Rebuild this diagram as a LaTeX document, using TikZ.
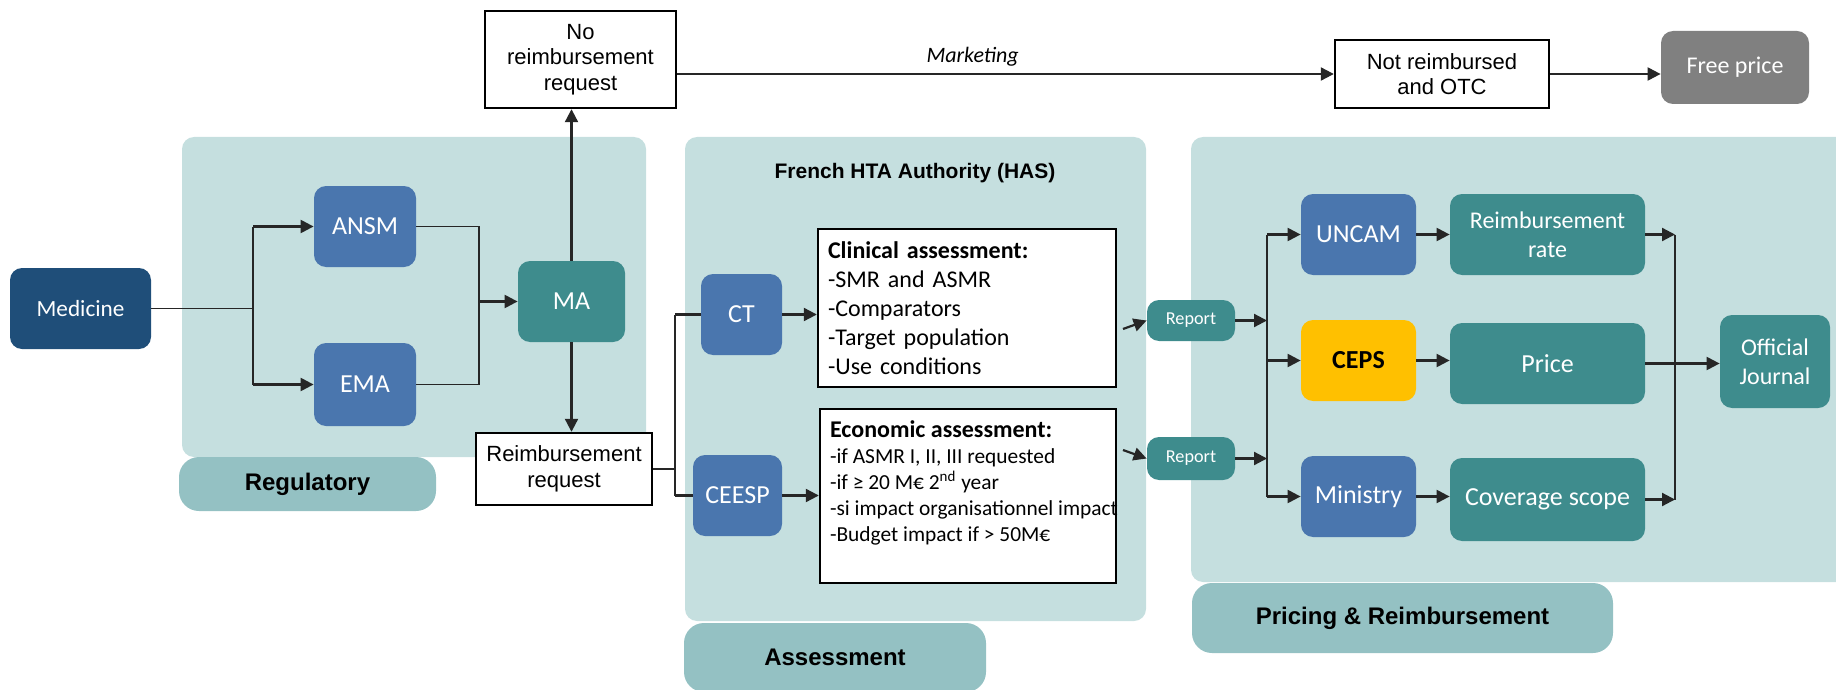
\documentclass[tikz,border=0pt]{standalone}
\usepackage{fontspec}
\setmainfont{Carlito}
\newfontfamily\arialfont{Liberation Sans}
\usepackage{xcolor}
\usepackage{tikz}
\usetikzlibrary{arrows.meta}

\definecolor{panelbg}{HTML}{C5DFDF}
\definecolor{tabbg}{HTML}{94C1C3}
\definecolor{medblue}{HTML}{1F4E79}
\definecolor{agblue}{HTML}{4A76AE}
\definecolor{tealc}{HTML}{3E8C8D}
\definecolor{cepsyellow}{HTML}{FFC000}
\definecolor{freegray}{HTML}{808080}
\definecolor{linegray}{HTML}{262626}

\tikzset{
  panel/.style={fill=panelbg, rounded corners=6pt},
  tab/.style={fill=tabbg, rounded corners=10pt, font=\arialfont\bfseries\fontsize{12}{14}\selectfont},
  card/.style={rounded corners=6pt, text=white, align=center, inner sep=1pt, font=\fontsize{13}{14.5}\selectfont},
  plain/.style={draw=black, line width=1.2pt, fill=white, align=center, inner sep=1pt, font=\arialfont\fontsize{11}{12.8}\selectfont},
  listbox/.style={draw=black, line width=1.2pt, fill=white, align=left, inner sep=5pt},
  arr/.style={draw=linegray, line width=1.1pt, -{Triangle[length=6.5pt,width=6.5pt]}},
  wire/.style={draw=linegray, line width=0.6pt},
  bar/.style={draw=linegray, line width=1.1pt}
}

\begin{document}
\begin{tikzpicture}[x=0.5pt, y=-0.5pt]
    \useasboundingbox (0,0) rectangle (1836,690);

    % Draw the three background panels
    \fill[panel] (182,137) rectangle (646,457);
    \fill[panel] (685,137) rectangle (1146,621);
    \fill[panel] (1191,137) rectangle (1850,582);

    % Panel tabs
    \node[tab, minimum width=128.5pt, minimum height=27pt] (regtab) at (307.5,484) {Regulatory};
    \node[tab, minimum width=151pt, minimum height=34.5pt] (asstab) at (835,657.5) {Assessment};
    \node[tab, minimum width=210.5pt, minimum height=35pt] (prictab) at (1402.5,618) {Pricing \& Reimbursement};

    % Regulatory part
    \node[card, fill=medblue, minimum width=70.5pt, minimum height=40.5pt, font=\fontsize{11.6}{14}\selectfont] (medicine) at (80.5,308.5) {Medicine};
    \node[card, fill=agblue, minimum width=51pt, minimum height=40.5pt] (ansm) at (365,226.5) {ANSM};
    \node[card, fill=agblue, minimum width=51pt, minimum height=41.5pt] (ema) at (365,384.5) {EMA};
    \node[card, fill=tealc, minimum width=53.5pt, minimum height=40.5pt] (ma) at (571.5,301.5) {MA};

    % White decision boxes
    \node[plain, minimum width=95.5pt, minimum height=48.5pt] (noreq) at (580.5,59.5) {No\\reimbursement\\request};
    \node[plain, minimum width=88pt, minimum height=36pt] (req) at (564,469) {Reimbursement\\request};
    \node[plain, minimum width=107pt, minimum height=34pt] (notreimb) at (1442,74) {Not reimbursed\\and OTC};
    \node[card, fill=freegray, minimum width=74pt, minimum height=36.5pt, font=\fontsize{12}{14}\selectfont] (freeprice) at (1735,67.5) {Free price};

    % Assessment part
    \node[font=\arialfont\bfseries\fontsize{10.5}{12}\selectfont] (hastitle) at (915,173) {French HTA Authority (HAS)};
    \node[card, fill=agblue, minimum width=40.5pt, minimum height=40.5pt] (ct) at (741.5,314.5) {CT};
    \node[card, fill=agblue, minimum width=44.5pt, minimum height=40.5pt] (ceesp) at (737.5,495.5) {CEESP};
    \node[listbox, text width=139pt, minimum height=79pt, font=\fontsize{12}{14.5}\selectfont] (clinical) at (967,308)
        {\textbf{Clinical assessment:}\\-SMR and ASMR\\-Comparators\\-Target population\\-Use conditions};
    \node[listbox, font=\fontsize{10.7}{13}\selectfont] (economic) at (968,496)
        {\parbox[c][77pt][t]{138pt}{\raggedright\vspace*{1pt}
         {\fontsize{12}{13}\selectfont\textbf{Economic assessment:}}\\
         -if ASMR I, II, III requested\\
         -if ≥ 20 M€ 2\textsuperscript{nd} year\\
         \mbox{-si impact organisationnel impact}\\
         -Budget impact if > 50M€}};
    \node[card, fill=tealc, minimum width=44pt, minimum height=20.5pt, font=\fontsize{9.1}{11}\selectfont] (rep1) at (1191,320.5) {Report};
    \node[card, fill=tealc, minimum width=44pt, minimum height=21.5pt, font=\fontsize{9.1}{11}\selectfont] (rep2) at (1191,458.5) {Report};

    % Pricing and reimbursement part
    \node[card, fill=agblue, minimum width=57.5pt, minimum height=40.5pt] (uncam) at (1358.5,234.5) {UNCAM};
    \node[card, fill=cepsyellow, text=black, minimum width=57.5pt, minimum height=40.5pt, font=\bfseries\fontsize{13}{14.5}\selectfont] (ceps) at (1358.5,360.5) {CEPS};
    \node[card, fill=agblue, minimum width=57.5pt, minimum height=40.5pt] (ministry) at (1358.5,496.5) {Ministry};
    \node[card, fill=tealc, minimum width=97.5pt, minimum height=40.5pt, font=\fontsize{12}{14.5}\selectfont] (rrate) at (1547.5,234.5) {Reimbursement\\rate};
    \node[card, fill=tealc, minimum width=97.5pt, minimum height=40.5pt] (price) at (1547.5,363.5) {Price};
    \node[card, fill=tealc, minimum width=97.5pt, minimum height=41.5pt] (coverage) at (1547.5,499.5) {Coverage scope};
    \node[card, fill=tealc, minimum width=55pt, minimum height=46.5pt, font=\fontsize{12}{14.3}\selectfont] (journal) at (1775,361.5) {Official\\Journal};

    % Connectors: regulatory
    \coordinate (fork1) at (253,306);
    \coordinate (join1) at (479,301);
    \draw[wire] (medicine.east) -- (fork1 |- medicine.east);
    \draw[wire] (fork1 |- ansm.west) -- (fork1 |- ema.west);
    \foreach \n in {ansm, ema}
        \draw[arr] (fork1 |- \n.west) -- (\n.west);
    \draw[wire] (ansm.east) -| (join1 |- ema.east) -- (ema.east);
    \draw[arr] (join1 |- ma.west) -- (ma.west);
    \draw[arr] (ma.north) -- (ma.north |- noreq.south);
    \draw[arr] (ma.south) -- (ma.south |- req.north);

    % Connectors: marketing without reimbursement
    \draw[arr] (noreq.east |- notreimb.west) -- node[above, pos=0.45, font=\itshape\fontsize{11}{13}\selectfont] (mktlabel) {Marketing} (notreimb.west);
    \draw[arr] (notreimb.east) -- (notreimb.east -| freeprice.west);

    % Connectors: assessment
    \coordinate (fork2) at (675,471);
    \draw[wire] (req.east) -- (fork2 |- req.east);
    \draw[wire] (fork2 |- ct.west) -- (fork2 |- ceesp.west);
    \draw[bar] (fork2 |- ct.west) -- (ct.west);
    \draw[bar] (fork2 |- ceesp.west) -- (ceesp.west);
    \draw[arr] (ct.east) -- (ct.east -| clinical.west);
    \draw[arr] (ceesp.east) -- (ceesp.east -| economic.west);
    \coordinate (tail1) at (1123,329);
    \coordinate (tail2) at (1123,450);
    \draw[arr] (tail1) -- (rep1.west);
    \draw[arr] (tail2) -- (rep2.west);

    % Connectors: pricing and reimbursement
    \coordinate (fork3) at (1267,360);
    \coordinate (join2) at (1675,363);
    \draw[wire] (fork3 |- uncam.west) -- (fork3 |- ministry.west);
    \foreach \r in {rep1, rep2}
        \draw[arr] (\r.east) -- (\r.east -| fork3);
    \foreach \n in {uncam, ceps, ministry}
        \draw[arr] (fork3 |- \n.west) -- (\n.west);
    \foreach \a/\b in {uncam/rrate, ceps/price, ministry/coverage}
        \draw[arr] (\a.east) -- (\a.east -| \b.west);
    \draw[wire] (join2 |- rrate.east) -- (join2 |- coverage.east);
    \foreach \n in {rrate, coverage}
        \draw[arr] (\n.east) -- (\n.east -| join2);
    \draw[arr] (price.east) -- (price.east -| journal.west);
\end{tikzpicture}
\end{document}
